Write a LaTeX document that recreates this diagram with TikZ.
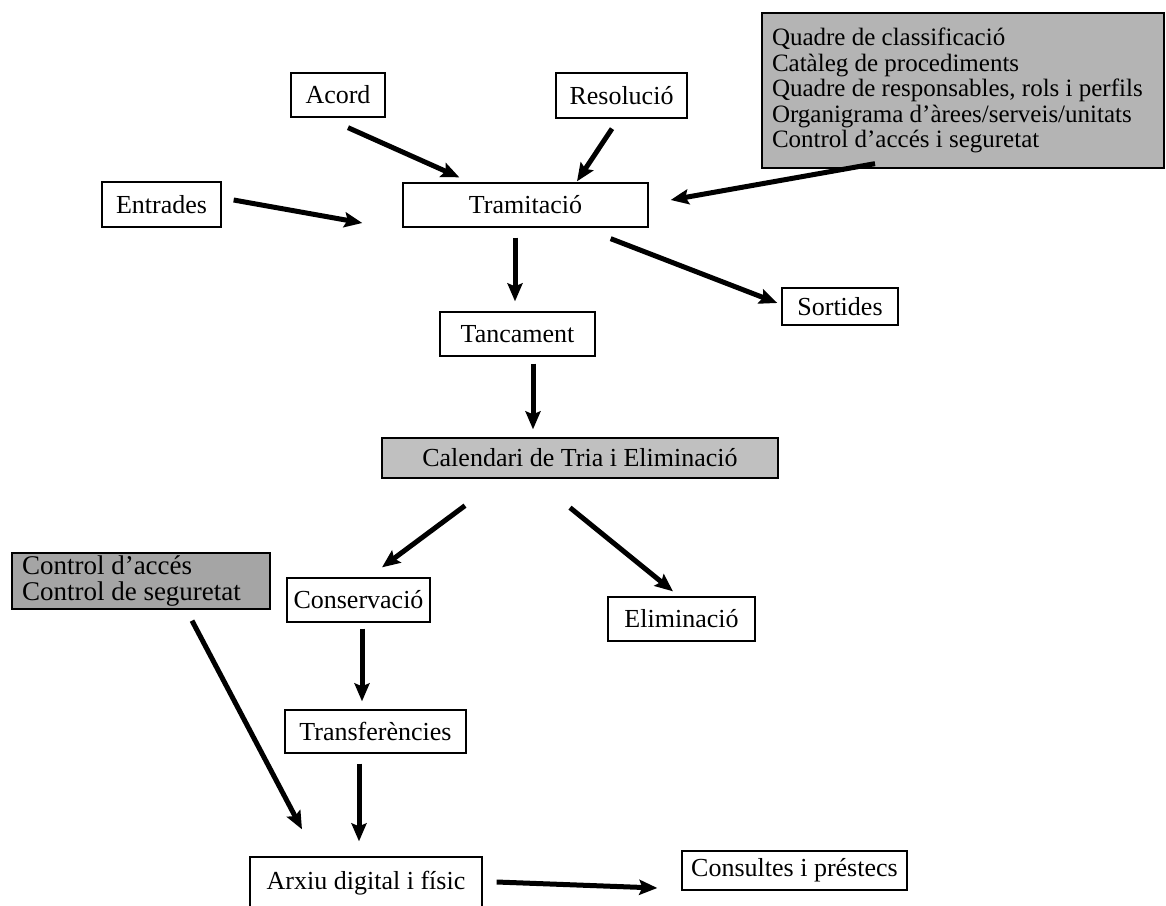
\documentclass[tikz,border=0pt]{standalone}
\usepackage{fontspec}
\setmainfont{Liberation Serif}
\usetikzlibrary{arrows.meta,positioning,calc}
\definecolor{listgray}{RGB}{180,180,180}
\definecolor{calgray}{RGB}{192,192,192}
\definecolor{ctrlgray}{RGB}{165,165,165}

\begin{document}
\begin{tikzpicture}[x=1pt,y=-1pt,
  box/.style={draw,line width=1.3pt,inner sep=0pt,font=\fontsize{26}{28}\selectfont},
  arr/.style={line width=5pt,-{Stealth[length=18pt,width=15pt,inset=3pt]}}]
\useasboundingbox[fill=white] (0,0) rectangle (1166,905);

\node[box,minimum width=94pt,minimum height=44pt] (acord) at (338,95) {Acord};
\node[box,minimum width=131pt,minimum height=45pt] (resol) at (621.5,95.5) {Resolució};
\node[box,minimum width=119pt,minimum height=45pt] (entr) at (161.5,204.5) {Entrades};
\node[box,minimum width=245pt,minimum height=44pt] (tram) at (525.5,205) {Tramitació};
\node[box,fill=listgray,minimum width=402pt,minimum height=155pt,align=left,
  font=\fontsize{25}{25.5}\selectfont] (lista) at (963,90.5)
  {\makebox[382pt][l]{Quadre de classificació}\\Catàleg de procediments\\Quadre de responsables, rols i perfils\\
   Organigrama d’àrees/serveis/unitats\\Control d’accés i seguretat};
\node[box,minimum width=116pt,minimum height=37pt] (sort) at (840,306.5) {Sortides};
\node[box,minimum width=155pt,minimum height=44pt] (tanc) at (517.5,334) {Tancament};
\node[box,fill=calgray,minimum width=396pt,minimum height=40pt] (cal) at (580,458) {Calendari de Tria i Eliminació};
\node[box,fill=ctrlgray,minimum width=258pt,minimum height=56pt,align=left,
  font=\fontsize{27}{26}\selectfont] (ctrl) at (141,581)
  {\makebox[238pt][l]{Control d’accés}\\Control de seguretat};
\node[box,minimum width=143pt,minimum height=44pt] (cons) at (358.5,600) {Conservació};
\node[box,minimum width=147pt,minimum height=44pt] (elim) at (681.5,619) {Eliminació};
\node[box,minimum width=181pt,minimum height=43pt] (transf) at (375.5,731.5) {Transferències};
\node[box,minimum width=232pt,minimum height=53pt] (arxiu) at (366,883.5) {Arxiu digital i físic};
\node[box,minimum width=225pt,minimum height=39pt] (cons2) at (794.5,870.5) {Consultes i préstecs};

\draw[arr] ([shift={(12,-4.5)}]entr.east) -- ([shift={(-40,18)}]tram.west);
\draw[arr] ([shift={(10,10)}]acord.south) -- ([shift={(57,-5)}]tram.north west);
\draw[arr] ([shift={(-9.5,10)}]resol.south) -- ([shift={(51.5,-1)}]tram.north);
\draw[arr] ([shift={(-88,-5)}]lista.south) -- ([shift={(22,-5)}]tram.east);
\draw[arr] ([shift={(-38,11)}]tram.south east) -- ([shift={(-4,-3.5)}]sort.west);
\draw[arr] ([shift={(-10.5,10)}]tram.south) -- ([shift={(-2.5,-10)}]tanc.north);
\draw[arr] ([shift={(15.5,7)}]tanc.south) -- ([shift={(-47,-8)}]cal.north);
\draw[arr] ([shift={(-115,27)}]cal.south) -- ([shift={(23.5,-10)}]cons.north);
\draw[arr] ([shift={(-10,29)}]cal.south) -- ([shift={(-8.5,-5)}]elim.north);
\draw[arr] ([shift={(51,11)}]ctrl.south) -- ([shift={(-64,-27)}]arxiu.north);
\draw[arr] ([shift={(3.5,6)}]cons.south) -- ([shift={(-13.5,-8)}]transf.north);
\draw[arr] ([shift={(-16.5,10)}]transf.south) -- ([shift={(-7,-15)}]arxiu.north);
\draw[arr] ([shift={(14,-1.5)}]arxiu.east) -- ([shift={(-24,17.5)}]cons2.west);
\end{tikzpicture}
\end{document}
